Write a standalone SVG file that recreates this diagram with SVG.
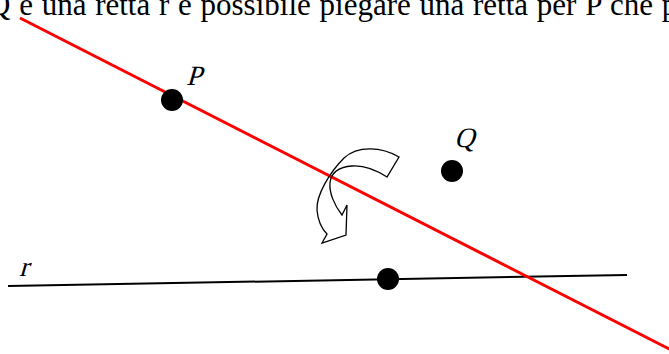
<svg xmlns="http://www.w3.org/2000/svg" width="669" height="354" viewBox="0 0 669 354">
<style>
.lbl{font-family:'Liberation Serif','Times New Roman',serif;font-size:28px;fill:#000}
.top{font-family:'Liberation Serif','Times New Roman',serif;font-size:31px;word-spacing:1px;fill:#000}
.dot{fill:#000}
</style>
<rect width="669" height="354" fill="#fff"/>
<text class="top" x="-12" y="15">Q e una retta r è possibile piegare una retta per P che p</text>
<g id="connectors">
<line id="line-r" x1="8" y1="286" x2="627" y2="275" stroke="#000" stroke-width="2"/>
<line id="fold-line" x1="20" y1="18" x2="675" y2="352" stroke="#f00" stroke-width="3"/>
<path id="fold-arrow" d="M399,157 C382,147 358,145 344,158 C330,172 316,195 317,210 C318,222 322,229 327,234 L322,243 L346,235 L347,205 L342,215 C334,205 329,192 330,183 C331,173 338,167 352,166 C364,165 376,170 387,177 Z" fill="none" stroke="#000" stroke-width="1.3" stroke-linejoin="miter"/>
</g>
<g id="node-P">
<circle class="dot" cx="172" cy="100" r="11"/>
<text class="lbl" transform="translate(186,85) skewX(-16)">P</text>
</g>
<g id="node-Q">
<circle class="dot" cx="452" cy="171" r="11"/>
<text class="lbl" transform="translate(454,147) skewX(-16)">Q</text>
</g>
<g id="node-X">
<circle class="dot" cx="388" cy="279" r="11"/>
</g>
<g id="label-r">
<text class="lbl" transform="translate(19,276) skewX(-16)">r</text>
</g>
</svg>
